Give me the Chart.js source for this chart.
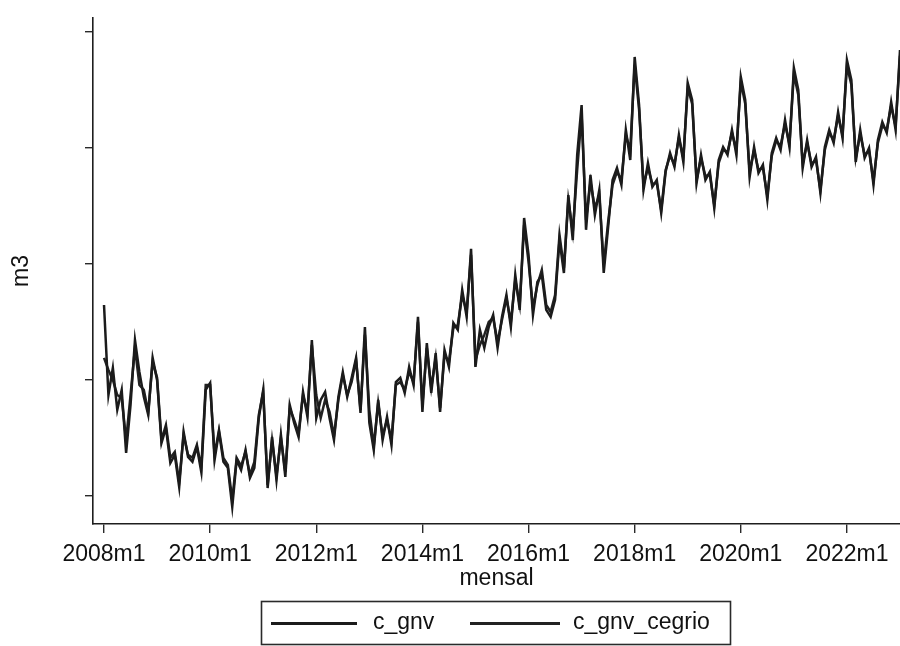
<!DOCTYPE html>
<html>
<head>
<meta charset="utf-8">
<title>c_gnv</title>
<script src="https://cdn.jsdelivr.net/npm/chart.js@4/dist/chart.umd.min.js"></script>
<style>
  html, body { margin: 0; padding: 0; background: #ffffff; }
  #wrap { width: 900px; height: 646px; position: relative; }
  canvas { display: block; }
</style>
</head>
<body>
<div id="wrap"><canvas id="chart" width="900" height="646"></canvas></div>
<script>
// Monthly series, 2008m1 .. 2023m1 (index 0 = 2008m1)
const startYear = 2008;

const cGnv = [
  18.23, 14.35, 15.52, 13.71, 14.57, 11.85, 13.92, 16.72, 15.34, 14.27, 13.49, 15.95,
  15.00, 12.28, 12.93, 11.42, 11.77, 10.39, 12.76, 11.68, 11.47, 12.11, 11.03, 14.57,
  14.87, 11.55, 12.76, 11.47, 11.21, 9.53, 11.55, 11.12, 11.98, 10.78, 11.21, 13.36,
  14.57, 10.34, 12.54, 10.69, 12.63, 10.82, 13.92, 13.15, 12.54, 14.48, 13.41, 16.72,
  13.36, 14.14, 14.48, 13.36, 12.41, 14.27, 15.34, 14.27, 15.09, 15.95, 13.58, 17.28,
  13.15, 11.98, 14.14, 12.41, 13.41, 12.20, 14.91, 15.09, 14.44, 15.56, 14.78, 17.72,
  13.62, 16.59, 14.44, 16.16, 13.62, 16.29, 15.56, 17.46, 17.16, 18.88, 17.72, 20.65,
  15.56, 17.16, 16.38, 17.28, 17.80, 16.38, 17.72, 18.66, 17.28, 19.53, 18.02, 21.98,
  20.39, 17.80, 19.22, 19.53, 18.02, 17.72, 18.45, 21.03, 19.61, 22.97, 21.03, 24.70,
  26.85, 21.47, 23.84, 22.11, 23.19, 19.61, 21.59, 23.62, 24.14, 23.41, 25.78, 24.48,
  28.92, 26.85, 23.19, 24.35, 23.32, 23.62, 22.20, 23.97, 24.78, 24.18, 25.56, 24.40,
  27.80, 27.07, 23.49, 24.70, 23.62, 23.97, 22.41, 24.48, 25.04, 24.70, 25.78, 24.70,
  28.06, 27.07, 23.75, 25.04, 23.92, 24.27, 22.76, 24.78, 25.43, 24.91, 26.21, 25.04,
  28.45, 27.50, 24.14, 25.34, 24.18, 24.61, 23.06, 25.04, 25.78, 25.22, 26.55, 25.43,
  28.79, 27.93, 24.40, 25.78, 24.57, 25.00, 23.41, 25.34, 26.12, 25.65, 26.98, 25.78,
  29.22
];

const cGnvCegrio = [
  15.95, 15.43, 15.00, 14.35, 14.22, 12.41, 14.35, 16.38, 14.78, 14.57, 13.62, 15.78,
  15.09, 12.41, 13.06, 11.64, 11.90, 10.60, 12.63, 11.77, 11.64, 12.20, 11.21, 14.78,
  14.78, 11.77, 12.84, 11.64, 11.34, 9.83, 11.64, 11.29, 11.90, 10.91, 11.47, 13.49,
  14.48, 10.47, 12.41, 10.86, 12.50, 11.03, 13.79, 13.28, 12.72, 14.35, 13.62, 16.51,
  14.35, 13.36, 14.14, 13.62, 12.59, 14.14, 15.22, 14.35, 14.91, 15.86, 13.71, 16.94,
  13.71, 12.16, 14.01, 12.59, 13.28, 12.41, 14.78, 14.91, 14.57, 15.34, 14.91, 17.50,
  13.92, 16.38, 14.66, 15.95, 13.79, 16.08, 15.78, 17.24, 17.37, 18.66, 17.93, 20.39,
  15.86, 16.51, 16.94, 17.50, 17.67, 16.64, 17.59, 18.53, 17.50, 19.31, 18.23, 21.68,
  20.09, 18.10, 19.09, 19.74, 18.23, 17.93, 18.66, 21.25, 19.83, 22.76, 21.38, 24.05,
  26.42, 21.90, 23.53, 22.41, 22.97, 19.96, 21.81, 23.41, 23.97, 23.62, 25.56, 24.91,
  28.58, 26.64, 23.41, 24.14, 23.45, 23.49, 22.33, 24.05, 24.66, 24.31, 25.43, 24.57,
  27.59, 26.90, 23.62, 24.57, 23.79, 23.84, 22.54, 24.35, 24.91, 24.83, 25.65, 24.91,
  27.84, 26.90, 23.97, 24.91, 24.05, 24.14, 22.93, 24.66, 25.30, 25.09, 26.03, 25.17,
  28.19, 27.28, 24.31, 25.22, 24.31, 24.48, 23.19, 24.91, 25.65, 25.34, 26.38, 25.56,
  28.53, 27.72, 24.57, 25.60, 24.70, 24.87, 23.58, 25.22, 25.95, 25.78, 26.81, 25.95,
  28.97
];

const seriesNames = ['c_gnv', 'c_gnv_cegrio'];
const xTickLabels = ['2008m1', '2010m1', '2012m1', '2014m1', '2016m1', '2018m1', '2020m1', '2022m1'];
const yTickValues = [10, 15, 20, 25, 30];

// month index of each x tick label (2008m1 = 0)
const xTickMonths = xTickLabels.map(l => (parseInt(l, 10) - startYear) * 12);

const toPoints = arr => arr.map((v, i) => ({ x: i, y: v }));

const FONT = "'Liberation Sans', Arial, Helvetica, sans-serif";
const INK = '#1b1b1b';

// framed legend below the plot, Stata style
const legendBox = {
  id: 'legendBox',
  afterDraw(chart) {
    const ctx = chart.ctx;
    const sets = chart.data.datasets;
    const slots = [
      { x0: 271, x1: 357, tx: 373 },
      { x0: 470, x1: 560, tx: 573 }
    ];
    ctx.save();
    ctx.strokeStyle = '#2a2a2a';
    ctx.lineWidth = 1.6;
    ctx.strokeRect(261.5, 601.5, 469, 43);
    ctx.font = '23px ' + FONT;
    ctx.fillStyle = '#111111';
    ctx.textBaseline = 'alphabetic';
    ctx.textAlign = 'left';
    sets.forEach((ds, k) => {
      const s = slots[k];
      ctx.strokeStyle = ds.borderColor;
      ctx.lineWidth = 2.8;
      ctx.beginPath();
      ctx.moveTo(s.x0, 623.5);
      ctx.lineTo(s.x1, 623.5);
      ctx.stroke();
      ctx.fillText(ds.label, s.tx, 629);
    });
    ctx.restore();
  }
};

new Chart(document.getElementById('chart'), {
  type: 'line',
  data: {
    datasets: [
      {
        label: seriesNames[0],
        data: toPoints(cGnv),
        borderColor: INK,
        borderWidth: 2.5,
        pointRadius: 0,
        tension: 0,
        clip: 6
      },
      {
        label: seriesNames[1],
        data: toPoints(cGnvCegrio),
        borderColor: '#222222',
        borderWidth: 2.5,
        pointRadius: 0,
        tension: 0,
        clip: 6
      }
    ]
  },
  options: {
    responsive: false,
    animation: false,
    devicePixelRatio: 1,
    layout: { padding: { top: 18, right: 0, bottom: 52, left: 0 } },
    plugins: {
      legend: { display: false },
      tooltip: { enabled: false }
    },
    scales: {
      x: {
        type: 'linear',
        min: -2.49,
        max: 180,
        afterBuildTicks: axis => { axis.ticks = xTickMonths.map(v => ({ value: v })); },
        afterFit: axis => { axis.height = 70; },
        ticks: {
          autoSkip: false,
          maxRotation: 0,
          padding: 8,
          color: '#111111',
          font: { family: FONT, size: 23 },
          callback: (v, i) => xTickLabels[i]
        },
        grid: {
          drawOnChartArea: false,
          drawTicks: true,
          tickLength: 9,
          color: '#2a2a2a',
          lineWidth: 1.4
        },
        border: { display: true, color: '#1e1e1e', width: 1.6 },
        title: {
          display: true,
          text: 'mensal',
          color: '#111111',
          font: { family: FONT, size: 23 },
          padding: { top: 0, bottom: 2 }
        }
      },
      y: {
        type: 'linear',
        min: 8.79,
        max: 30.6,
        afterBuildTicks: axis => { axis.ticks = yTickValues.map(v => ({ value: v })); },
        afterFit: axis => { axis.width = 93; },
        ticks: { display: false },
        grid: {
          drawOnChartArea: false,
          drawTicks: true,
          tickLength: 8,
          color: '#2a2a2a',
          lineWidth: 1.4
        },
        border: { display: true, color: '#1e1e1e', width: 1.6 },
        title: {
          display: true,
          text: 'm3',
          color: '#111111',
          font: { family: FONT, size: 23 },
          padding: { top: 8, bottom: 0 }
        }
      }
    }
  },
  plugins: [legendBox]
});
</script>
</body>
</html>
